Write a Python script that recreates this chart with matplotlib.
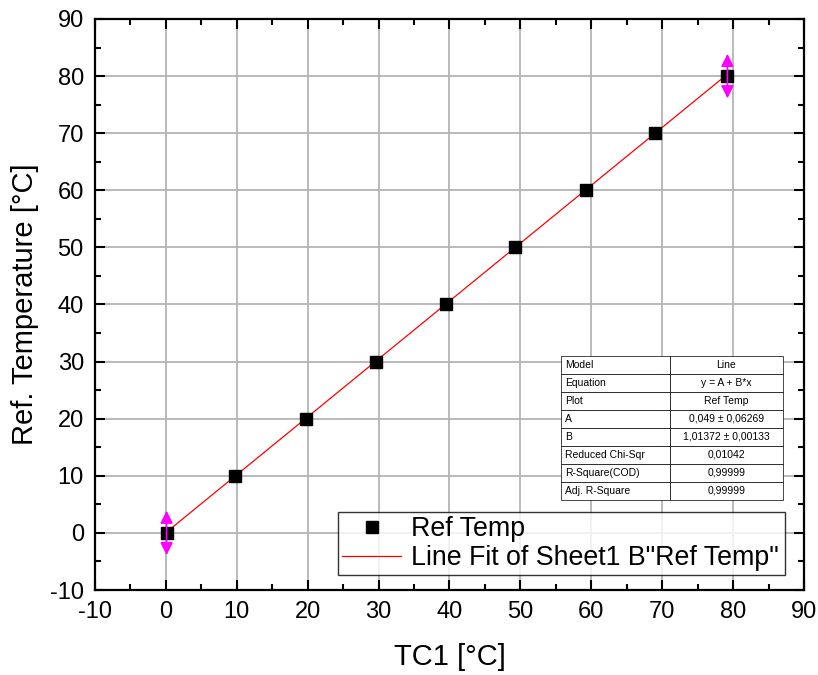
import matplotlib.pyplot as plt
import numpy as np
from matplotlib.ticker import MultipleLocator

plt.rcParams['font.family'] = ['Liberation Sans', 'DejaVu Sans']
plt.rcParams['axes.unicode_minus'] = False

# data
tc1 = [0.1, 9.8, 19.7, 29.6, 39.5, 49.3, 59.2, 69.0, 79.2]
ref_temp = [0, 10, 20, 30, 40, 50, 60, 70, 80]
fit_a = 0.049
fit_b = 1.01372

table_labels = ['Model', 'Equation', 'Plot', 'A', 'B', 'Reduced Chi-Sqr',
                'R-Square(COD)', 'Adj. R-Square']
table_values = ['Line', 'y = A + B*x', 'Ref Temp', '0,049 ± 0,06269',
                '1,01372 ± 0,00133', '0,01042', '0,99999', '0,99999']

fig = plt.figure(figsize=(8.18, 6.75), dpi=100)
ax = fig.add_axes([0.1161, 0.1259, 0.8668, 0.846])

# grid
ax.grid(True, which='major', color='#b4b4b4', linewidth=1.3, zorder=0)

# fit line
xf = np.array([tc1[0], tc1[-1]])
ax.plot(xf, fit_a + fit_b * xf, color='red', linewidth=0.9, zorder=3,
        label='Line Fit of Sheet1 B"Ref Temp"')

# data points
ax.plot(tc1, ref_temp, 's', color='black', markersize=9, linestyle='none',
        zorder=4, label='Ref Temp')

# magenta arrows on first and last point
for i in [0, -1]:
    for d in [3.9, -3.9]:
        ax.annotate('', xy=(tc1[i], ref_temp[i] + d), xytext=(tc1[i], ref_temp[i]),
                    arrowprops=dict(arrowstyle='-|>', color='magenta', lw=1.2,
                                    mutation_scale=19, shrinkA=0, shrinkB=0),
                    zorder=5)

ax.set_xlim(-10, 90)
ax.set_ylim(-10, 90)
ax.xaxis.set_major_locator(MultipleLocator(10))
ax.yaxis.set_major_locator(MultipleLocator(10))
ax.xaxis.set_minor_locator(MultipleLocator(5))
ax.yaxis.set_minor_locator(MultipleLocator(5))
ax.tick_params(which='both', direction='in', top=True, right=True,
               labeltop=False, labelright=False, width=1.5)
ax.tick_params(which='major', length=7, labelsize=17, pad=8)
ax.tick_params(which='minor', length=4)
for s in ax.spines.values():
    s.set_linewidth(1.6)

ax.set_xlabel('TC1 [°C]', fontsize=21, labelpad=14)
ax.set_ylabel('Ref. Temperature [°C]', fontsize=21, labelpad=8)

# legend
handles, labels = ax.get_legend_handles_labels()
leg = ax.legend(handles[::-1], labels[::-1], loc='lower left',
                bbox_to_anchor=(0.343, 0.026, 0.63, 0.123), mode='expand',
                fontsize=19.3, frameon=True, fancybox=False, edgecolor='black',
                borderaxespad=0, handlelength=2.2, handletextpad=0.35,
                labelspacing=0.1, borderpad=0.15, markerscale=1.0)
leg.get_frame().set_linewidth(1.0)
leg.set_zorder(6)

# fit table
cells = [[l, v] for l, v in zip(table_labels, table_values)]
tbl = ax.table(cellText=cells, colWidths=[0.49, 0.51],
               bbox=[0.657, 0.158, 0.313, 0.252], zorder=6)
tbl.auto_set_font_size(False)
tbl.set_fontsize(7.5)
for (r, c), cell in tbl.get_celld().items():
    cell.set_linewidth(0.5)
    cell.set_facecolor('white')
    if c == 0:
        cell.set_text_props(ha='left')
        cell.PAD = 0.04
    else:
        cell.set_text_props(ha='center')

fig.savefig('out.png', dpi=100)
